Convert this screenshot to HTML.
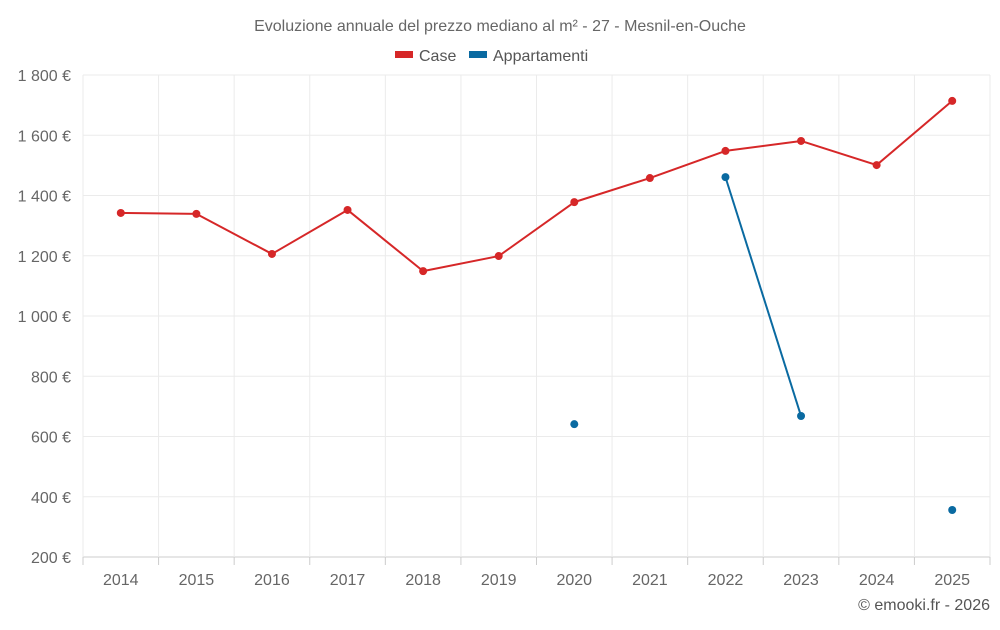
<!DOCTYPE html>
<html><head><meta charset="utf-8"><style>
body{margin:0;background:#fff;font-family:"Liberation Sans",sans-serif}
svg text{font-family:"Liberation Sans",sans-serif}
</style></head><body>
<svg id="chart" width="1000" height="625" viewBox="0 0 1000 625" xmlns="http://www.w3.org/2000/svg">
<text x="500" y="31" text-anchor="middle" font-size="16" fill="#666">Evoluzione annuale del prezzo mediano al m² - 27 - Mesnil-en-Ouche</text>
<g>
<g><rect x="395" y="51" width="18" height="7" fill="#d62728"/><text x="419" y="61" font-size="16" fill="#555">Case</text></g>
<g><rect x="469" y="51" width="18" height="7" fill="#0a6aa1"/><text x="493" y="61" font-size="16" fill="#555">Appartamenti</text></g>
</g>
<g id="grid"></g>
<g id="axes"></g>
<g id="series"></g>
<text x="990" y="610" text-anchor="end" font-size="16" fill="#555">© emooki.fr - 2026</text>
</svg>
<script>
const years=["2014","2015","2016","2017","2018","2019","2020","2021","2022","2023","2024","2025"];
const caseValues=[1342,1339,1206,1352,1149,1199,1378,1458,1548,1581,1501,1714];
const apptValues=[null,null,null,null,null,null,641,null,1461,668,null,356];
const yTicks=[200,400,600,800,1000,1200,1400,1600,1800];
const tickLabels=["200 €","400 €","600 €","800 €","1 000 €","1 200 €","1 400 €","1 600 €","1 800 €"];
const L=83,R=990,T=75,B=557,yMin=200,yMax=1800;
const bw=(R-L)/years.length;
const x=i=>L+bw*(i+0.5);
const y=v=>B-(v-yMin)/(yMax-yMin)*(B-T);
const NS="http://www.w3.org/2000/svg";
function mk(tag,attrs,parent){const e=document.createElementNS(NS,tag);for(const k in attrs)e.setAttribute(k,attrs[k]);parent.appendChild(e);return e;}
const grid=document.getElementById('grid'),axes=document.getElementById('axes'),series=document.getElementById('series');
yTicks.forEach((v,i)=>{
 const l=mk('line',{x1:L,x2:R,y1:y(v),y2:y(v),stroke:i===0?'#ccc':'#ebebeb'},grid);
 
 
 const t=mk('text',{x:71,y:y(v)+6,'text-anchor':'end','font-size':16,fill:'#666'},axes);
 t.textContent=tickLabels[i];
 
 
});
for(let i=0;i<=years.length;i++){
 const xx=L+bw*i;
 const g=mk('line',{x1:xx,x2:xx,y1:T,y2:B,stroke:'#ebebeb'},grid);
 
 
 const tk=mk('line',{x1:xx,x2:xx,y1:B,y2:B+8,stroke:'#ccc'},axes);
 
 
}
years.forEach((yr,i)=>{
 const t=mk('text',{x:x(i),y:585,'text-anchor':'middle','font-size':16,fill:'#666'},axes);
 t.textContent=yr;
 
 
});
function draw(vals,color,name){
 for(let i=0;i<vals.length-1;i++){
  if(vals[i]!=null&&vals[i+1]!=null){
   const l=mk('line',{x1:x(i),y1:y(vals[i]),x2:x(i+1),y2:y(vals[i+1]),stroke:color,'stroke-width':2},series);
   
   
  }
 }
 vals.forEach((v,i)=>{if(v==null)return;
  const c=mk('circle',{cx:x(i),cy:y(v),r:4,fill:color},series);
  
  
 });
}
draw(caseValues,'#d62728','case');
draw(apptValues,'#0a6aa1','appartamenti');
</script>
</body></html>
